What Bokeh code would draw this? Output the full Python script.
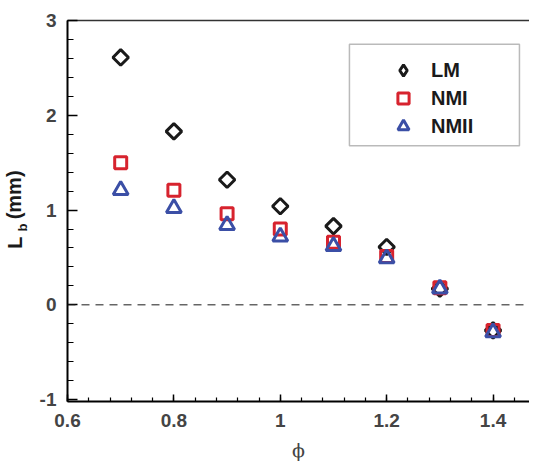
import numpy as np
from bokeh.plotting import figure
from bokeh.models import (Range1d, FixedTicker, LinearAxis, Span, Legend, LegendItem,
                          BoxAnnotation)
from bokeh.embed import file_html
from bokeh.resources import INLINE

phi = [0.7, 0.8, 0.9, 1.0, 1.1, 1.2, 1.3, 1.4]
lm = [2.61, 1.83, 1.32, 1.04, 0.83, 0.61, 0.17, -0.27]
nmi = [1.50, 1.21, 0.96, 0.80, 0.66, 0.51, 0.18, -0.27]
nmii = [1.21, 1.02, 0.84, 0.72, 0.62, 0.49, 0.17, -0.29]

x_ticks = [0.6, 0.8, 1.0, 1.2, 1.4]
x_labels = {0.6: "0.6", 0.8: "0.8", 1.0: "1", 1.2: "1.2", 1.4: "1.4"}
y_ticks = [-1, 0, 1, 2, 3]
y_labels = {-1: "-1", 0: "0", 1: "1", 2: "2", 3: "3"}
# y title pieces "L", subscript "b", "(mm)" centred at these y values
title_main = {0.655: "L", 1.16: "(mm)"}
title_sub = {0.815: "b"}

FONT = "Liberation Sans"
INK = "#1a1a1a"
RED = "#d7232e"
BLUE = "#3b4fa6"

p = figure(width=529, height=463, output_backend="svg", toolbar_location=None,
           x_range=Range1d(0.6, 1.4685), y_range=Range1d(-1.02, 3.0),
           min_border_left=67, min_border_top=20, min_border_right=0, min_border_bottom=60)
p.outline_line_color = None
p.grid.visible = False
p.background_fill_color = "white"

# x axis
xa = p.xaxis[0]
xa.ticker = FixedTicker(ticks=x_ticks, minor_ticks=list(np.round(np.arange(0.6, 1.47, 0.04), 2)))
xa.major_label_overrides = x_labels
xa.axis_line_width = 2
xa.major_tick_in = 7
xa.major_tick_out = 0
xa.minor_tick_in = 4
xa.minor_tick_out = 0
xa.major_tick_line_width = 1.5
xa.minor_tick_line_width = 1.2
xa.major_label_text_font = FONT
xa.major_label_text_font_style = "bold"
xa.major_label_text_font_size = "19px"
xa.major_label_standoff = 12
xa.axis_label = "ϕ"
xa.axis_label_text_font = "DejaVu Serif"
xa.axis_label_text_font_style = "normal"
xa.axis_label_text_font_size = "19px"
xa.axis_label_standoff = 9

# y axis
ya = p.yaxis[0]
ya.ticker = FixedTicker(ticks=y_ticks, minor_ticks=list(np.round(np.arange(-1.0, 3.01, 0.2), 2)))
ya.major_label_overrides = y_labels
ya.axis_line_width = 2
ya.major_tick_in = 10
ya.major_tick_out = 0
ya.minor_tick_in = 6
ya.minor_tick_out = 0
ya.major_tick_line_width = 1.5
ya.minor_tick_line_width = 1.2
ya.major_label_text_font = FONT
ya.major_label_text_font_style = "bold"
ya.major_label_text_font_size = "19px"
ya.major_label_standoff = 11

# y title, drawn as the labels of two bare axes (subscript axis next to the frame)
bare = dict(axis_line_color=None, major_tick_line_color=None, minor_tick_line_color=None,
            major_tick_in=0, major_tick_out=0, minor_tick_in=0, minor_tick_out=0,
            major_label_orientation="vertical", major_label_text_font=FONT,
            major_label_text_font_style="bold", major_label_text_color=INK)
ax_sub = LinearAxis(major_label_text_font_size="13px", major_label_standoff=6,
                    major_label_overrides=title_sub, **bare)
ax_sub.ticker = FixedTicker(ticks=list(title_sub.keys()), minor_ticks=[])
p.add_layout(ax_sub, "left")
ax_main = LinearAxis(major_label_text_font_size="20px", major_label_standoff=-13,
                     major_label_overrides=title_main, **bare)
ax_main.ticker = FixedTicker(ticks=list(title_main.keys()), minor_ticks=[])
p.add_layout(ax_main, "left")

# top border line: an unlabeled axis above the frame
top = LinearAxis(axis_line_width=1.5, axis_line_color="#333333",
                 major_tick_in=0, major_tick_out=0, minor_tick_in=0, minor_tick_out=0,
                 major_label_text_font_size="10px", major_label_text_alpha=0,
                 major_label_standoff=0)
top.ticker = FixedTicker(ticks=[0.6], minor_ticks=[])
p.add_layout(top, "above")

# zero dashed line
p.add_layout(Span(location=0, dimension="width", line_color=INK,
                  line_dash="8 6", line_width=1))

r_lm = p.scatter(phi, lm, marker="square", angle=np.pi / 4, size=11,
                 fill_color=None, line_color=INK, line_width=3)
r_nmi = p.scatter(phi, nmi, marker="square", size=12,
                  fill_color=None, line_color=RED, line_width=3)
r_nmii = p.scatter(phi, nmii, marker="triangle", size=15,
                   fill_color=None, line_color=BLUE, line_width=3)
# legend swatch for LM (legend glyphs are never rotated, so use the diamond marker)
r_lm_key = p.scatter(phi, lm, marker="diamond", size=11,
                     fill_color=None, line_color=INK, line_width=3, visible=False)

# legend frame
p.add_layout(BoxAnnotation(left=1.130, right=1.4496, top=2.749, bottom=1.679,
                           fill_color="white", fill_alpha=1.0,
                           line_color=INK, line_width=1.5))

legend = Legend(items=[LegendItem(label="LM", renderers=[r_lm_key]),
                       LegendItem(label="NMI", renderers=[r_nmi]),
                       LegendItem(label="NMII", renderers=[r_nmii])],
                location=(316, 261), padding=0, spacing=0, margin=0,
                glyph_width=40, glyph_height=28, label_height=28,
                label_standoff=8, label_width=60,
                label_text_font=FONT, label_text_font_style="bold",
                label_text_font_size="20px", label_text_color=INK,
                border_line_alpha=0, background_fill_alpha=0,
                inactive_fill_alpha=0)
p.add_layout(legend, "center")

open("out.html", "w").write(file_html(p, INLINE))
